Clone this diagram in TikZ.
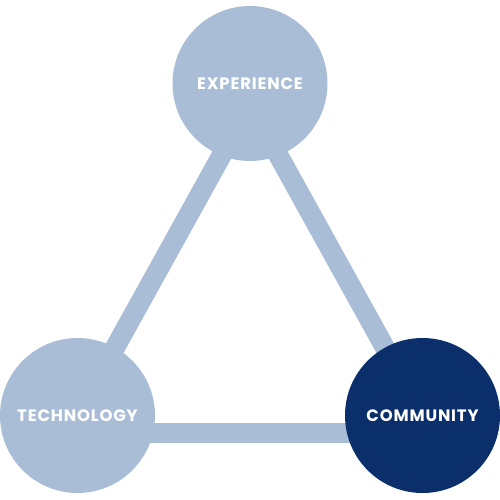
\documentclass[tikz,border=0pt]{standalone}
\usepackage{fontspec}
\setmainfont{Poppins}[LetterSpace=5]
\usetikzlibrary{backgrounds}
\definecolor{lightblue}{HTML}{AABDD6}
\definecolor{navy}{HTML}{0A2F6B}
\tikzset{
  bubble/.style={circle, minimum size=155pt, inner sep=0pt, fill=lightblue, text=white, font=\fontsize{16.5}{19}\selectfont\bfseries},
  darkbubble/.style={bubble, fill=navy},
  link/.style={draw=lightblue, line width=20pt, line cap=butt, line join=miter}
}
\begin{document}
\begin{tikzpicture}[x=1pt,y=-1pt]
\useasboundingbox (0,0) rectangle (500,500);
\node[bubble] (exp) at (250,83.5) {EXPERIENCE};
\node[bubble] (tech) at (77.5,415.5) {TECHNOLOGY};
\node[darkbubble] (comm) at (422.5,415.5) {COMMUNITY};
\coordinate (apex) at (250,104);
\begin{pgfonlayer}{background}
\draw[link] (tech.center) -- (apex) -- (comm.center);
\draw[link] ([yshift=-17.5pt]tech.center) -- ([yshift=-17.5pt]comm.center);
\end{pgfonlayer}
\end{tikzpicture}
\end{document}
